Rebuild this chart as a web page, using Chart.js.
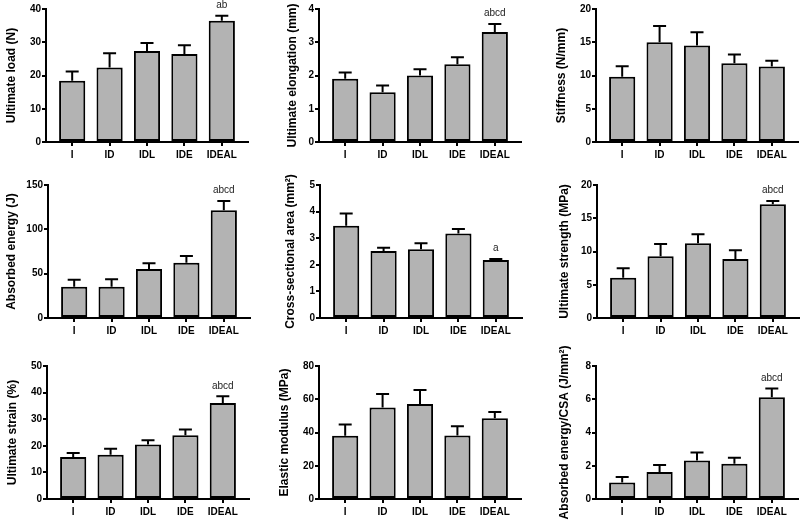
<!DOCTYPE html>
<html>
<head>
<meta charset="utf-8">
<script src="https://cdn.jsdelivr.net/npm/chart.js@4"></script>
<style>
  html, body { margin: 0; padding: 0; background: #fff; }
  body { width: 800px; height: 526px; overflow: hidden; position: relative; }
  canvas.p { position: absolute; }
</style>
</head>
<body>
<script>
// ---- data ----
const groups = ['I', 'ID', 'IDL', 'IDE', 'IDEAL'];

const loadMean = [18.4, 22.4, 27.4, 26.5, 36.5];
const loadSD   = [2.8, 4.3, 2.4, 2.6, 1.5];
const loadSig  = ['', '', '', '', 'ab'];

const elongMean = [1.90, 1.50, 2.00, 2.34, 3.31];
const elongSD   = [0.19, 0.20, 0.19, 0.21, 0.24];
const elongSig  = ['', '', '', '', 'abcd'];

const stiffMean = [9.8, 15.0, 14.5, 11.85, 11.35];
const stiffSD   = [1.6, 2.45, 2.0, 1.3, 0.85];
const stiffSig  = ['', '', '', '', ''];

const energyMean = [35.3, 35.3, 55.3, 62.4, 121.4];
const energySD   = [7.9, 8.3, 6.4, 7.5, 10.6];
const energySig  = ['', '', '', '', 'abcd'];

const csaMean = [3.47, 2.52, 2.58, 3.18, 2.18];
const csaSD   = [0.46, 0.12, 0.23, 0.17, 0.04];
const csaSig  = ['', '', '', '', 'a'];

const strengthMean = [6.07, 9.27, 11.23, 8.87, 17.09];
const strengthSD   = [1.40, 1.86, 1.35, 1.31, 0.51];
const strengthSig  = ['', '', '', '', 'abcd'];

const strainMean = [15.75, 16.6, 20.5, 24.0, 36.1];
const strainSD   = [1.5, 2.3, 1.6, 2.1, 2.5];
const strainSig  = ['', '', '', '', 'abcd'];

const modulusMean = [38.0, 55.0, 57.2, 38.2, 48.6];
const modulusSD   = [6.8, 8.2, 8.4, 5.6, 3.8];
const modulusSig  = ['', '', '', '', ''];

const energyCsaMean = [1.00, 1.62, 2.32, 2.12, 6.12];
const energyCsaSD   = [0.32, 0.42, 0.48, 0.36, 0.52];
const energyCsaSig  = ['', '', '', '', 'abcd'];

const yTitles = ['Ultimate load (N)', 'Ultimate elongation (mm)', 'Stiffness (N/mm)',
                 'Absorbed energy (J)', 'Cross-sectional area (mm\u00B2)', 'Ultimate strength (MPa)',
                 'Ultimate strain (%)', 'Elastic modulus (MPa)', 'Absorbed energy/CSA (J/mm\u00B2)'];
const yMax  = [40, 4, 20, 150, 5, 20, 50, 80, 8];
const yStep = [10, 1, 5, 50, 1, 5, 10, 20, 2];

const means = [loadMean, elongMean, stiffMean, energyMean, csaMean, strengthMean, strainMean, modulusMean, energyCsaMean];
const sds   = [loadSD, elongSD, stiffSD, energySD, csaSD, strengthSD, strainSD, modulusSD, energyCsaSD];
const sigs  = [loadSig, elongSig, stiffSig, energySig, csaSig, strengthSig, strainSig, modulusSig, energyCsaSig];

// ---- layout (axis x position, plot top, title distance from axis) ----
const axisX    = [46, 318.5, 596, 47.5, 320, 597, 47, 318.5, 596];
const plotTop  = [9, 9, 9, 185, 185, 185, 366, 366, 366];
const titleDist = [34, 26.5, 34, 36.5, 29, 32, 34.5, 34.5, 31];
const PLOT_H = 133, PLOT_W = 202, YW = 50, XH = 45, PAD_T = 30;

const FONT = '"Liberation Sans", Arial, Helvetica, sans-serif';

const errorBars = {
  id: 'errorBars',
  afterDatasetsDraw(chart) {
    const ds = chart.data.datasets[0];
    const meta = chart.getDatasetMeta(0);
    const ys = chart.scales.y;
    const ctx = chart.ctx;
    ctx.save();
    ctx.strokeStyle = '#000';
    ctx.lineWidth = 2;
    ctx.lineCap = 'butt';
    meta.data.forEach((bar, i) => {
      const top = ys.getPixelForValue(ds.data[i] + ds.sd[i]);
      ctx.beginPath();
      ctx.moveTo(bar.x, bar.y);
      ctx.lineTo(bar.x, top);
      ctx.moveTo(bar.x - 6.5, top);
      ctx.lineTo(bar.x + 6.5, top);
      ctx.stroke();
      if (ds.sig[i]) {
        ctx.fillStyle = '#222';
        ctx.font = '10px ' + FONT;
        ctx.textAlign = 'center';
        ctx.textBaseline = 'middle';
        ctx.fillText(ds.sig[i], bar.x, top - 10.5);
      }
    });
    ctx.restore();
  }
};

for (let k = 0; k < 9; k++) {
  const cv = document.createElement('canvas');
  cv.className = 'p';
  const W = YW + PLOT_W + 2, H = PAD_T + PLOT_H + XH;
  cv.width = W; cv.height = H;
  cv.style.left = (axisX[k] - YW) + 'px';
  cv.style.top = (plotTop[k] - PAD_T) + 'px';
  cv.style.width = W + 'px'; cv.style.height = H + 'px';
  document.body.appendChild(cv);

  new Chart(cv, {
    type: 'bar',
    data: {
      labels: groups,
      datasets: [{
        data: means[k],
        sd: sds[k],
        sig: sigs[k],
        backgroundColor: '#b3b3b3',
        borderColor: '#000',
        borderWidth: 2,
        borderSkipped: false,
        barPercentage: 0.7,
        categoryPercentage: 1.0
      }]
    },
    options: {
      responsive: false,
      animation: false,
      devicePixelRatio: 1,
      layout: { padding: { top: PAD_T, left: 0, right: 2, bottom: 0 } },
      plugins: { legend: { display: false }, tooltip: { enabled: false } },
      scales: {
        x: {
          type: 'category',
          afterBuildTicks: (s) => { s._startValue = -0.7; s._valueRange = 5.4; },
          afterFit: (s) => { s.height = XH; },
          grid: { display: true, drawOnChartArea: false, offset: false, tickLength: 4, lineWidth: 2, color: '#000' },
          border: { display: true, color: '#000', width: 2 },
          ticks: { color: '#000', font: { family: FONT, size: 10, weight: 'bold' }, padding: 3, maxRotation: 0, autoSkip: false }
        },
        y: {
          min: 0, max: yMax[k],
          afterFit: (s) => { s.width = YW; },
          grid: { display: true, drawOnChartArea: false, tickLength: 4, lineWidth: 2, color: '#000' },
          border: { display: true, color: '#000', width: 2 },
          ticks: { stepSize: yStep[k], color: '#000', font: { family: FONT, size: 10, weight: 'bold' }, padding: 1 },
          title: {
            display: true, text: yTitles[k], color: '#000',
            font: { family: FONT, size: 12, weight: 'bold' },
            padding: { top: YW - titleDist[k] - 7.2, bottom: 0 }
          }
        }
      }
    },
    plugins: [errorBars]
  });
}
</script>
</body>
</html>
